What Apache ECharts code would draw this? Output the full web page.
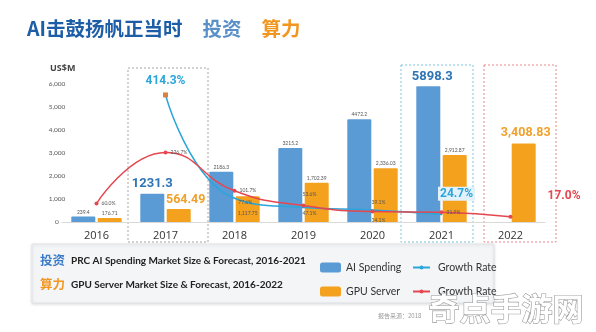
<!DOCTYPE html>
<html><head><meta charset="utf-8">
<script src="https://cdn.jsdelivr.net/npm/echarts@6/dist/echarts.min.js"></script>
<style>html,body{margin:0;padding:0;background:#fff}#c{width:596px;height:332px}</style>
</head><body><div id="c"></div>
<script>
const years = ['2016','2017','2018','2019','2020','2021','2022'];
const aiSpending = [239.4, 1231.3, 2186.3, 3215.2, 4472.2, 5898.3, null];
const gpuServer = [176.71, 564.49, 1117.75, 1702.39, 2336.03, 2912.87, 3408.83];
const aiGrowth = [null, 414.3, 77.6, 47.1, 39.1, 24.7, null];
const gpuGrowth = [60.0, 226.7, 101.7, 53.6, 34.1, 31.9, 17.0];
const yTicks = [0, 1000, 2000, 3000, 4000, 5000, 6000];

const BLUE = '#5b9bd5', ORANGE = '#f4a11d', TEAL = '#2aa6da', RED = '#e4474f';
const FONT = 'Lato, "Noto Sans CJK SC", sans-serif';
const small = {show:true, fontSize:5, color:'#555', fontFamily:FONT};
const bigBlue = {show:true, fontSize:13, fontWeight:'bold', color:'#2e75b6', fontFamily:'Roboto, sans-serif'};
const bigOrange = {show:true, fontSize:12.5, fontWeight:'bold', color:'#f0a12c', fontFamily:'Roboto, sans-serif'};

const fmtAI = v => String(v);
const fmtGPU = v => v.toLocaleString('en-US',{minimumFractionDigits:2,maximumFractionDigits:2});
const fmtPct = v => v.toFixed(1) + '%';

const aiBarLabel = {1: Object.assign({}, bigBlue, {position:'top', distance:3}),
                    5: Object.assign({}, bigBlue, {position:'top', distance:3, offset:[4,0]})};
const gpuBarLabel = {1: Object.assign({}, bigOrange, {position:'top', distance:3, offset:[7,0]}),
                     2: Object.assign({}, small, {position:'insideBottom', distance:6}),
                     6: Object.assign({}, bigOrange, {position:'top', distance:4, offset:[2,0]})};
const aiLineLabel = {1: {show:true, fontSize:12, fontWeight:'bold', color:TEAL, fontFamily:'Roboto, sans-serif', position:'top', distance:5},
                     2: {position:'right', offset:[0,4]},
                     3: {position:'bottom', offset:[6,0]},
                     4: {position:'top', offset:[6,-1]},
                     5: {show:true, fontSize:12, fontWeight:'bold', color:TEAL, fontFamily:'Roboto, sans-serif', position:'top', offset:[15,-10], backgroundColor:'#e2f1fa', padding:[1,2]}};
const gpuLineLabel = {3: {position:'top', offset:[6,-4]},
                      4: {position:'bottom', offset:[6,1]},
                      6: {show:true, fontSize:12, fontWeight:'bold', color:RED, fontFamily:'Roboto, sans-serif', position:'right', offset:[32,-21]}};

function barData(arr, styles, fmt){
  return arr.map((v,i)=> v==null ? null : {value:v, label: Object.assign({}, small, {position:'top', distance:2}, styles[i]||{}, {formatter: ()=>fmt(v)})});
}
function lineData(arr, styles, extra){
  return arr.map((v,i)=> v==null ? null : Object.assign({value:v, label: Object.assign({}, small, {position:'right', distance:3}, styles[i]||{}, {formatter: ()=>fmtPct(v)})}, (extra && extra[i])||{}));
}

const chart = echarts.init(document.getElementById('c'), null, {renderer:'canvas'});
const legendText = {fontSize:10.5, color:'#333', fontFamily:'Lato, sans-serif'};
chart.setOption({
  backgroundColor:'#fff',
  animation:false,
  title:{
    left:22, top:14,
    text:'{a|AI击鼓扬帆正当时}    {b|投资}    {c|算力}',
    textStyle:{rich:{
      a:{fontSize:19.5, fontWeight:'bold', color:'#1d5ea6', fontFamily:'"Noto Sans CJK SC", sans-serif'},
      b:{fontSize:19.5, fontWeight:'bold', color:'#5a8fc8', fontFamily:'"Noto Sans CJK SC", sans-serif'},
      c:{fontSize:19.5, fontWeight:'bold', color:'#f2961f', fontFamily:'"Noto Sans CJK SC", sans-serif'}
    }}
  },
  grid:{left:62, right:51, top:84, bottom:110, containLabel:false},
  xAxis:{type:'category', data:years,
    axisLine:{lineStyle:{color:'#d9d9d9'}}, axisTick:{show:false},
    axisLabel:{fontSize:11, color:'#333', margin:8, fontFamily:'"Open Sans", sans-serif'}},
  yAxis:[
    {type:'value', min:0, max:6000, interval:1000,
     axisLine:{show:false}, axisTick:{show:false}, splitLine:{show:false},
     axisLabel:{fontSize:6.5, color:'#555', align:'center', margin:5, fontFamily:FONT,
       formatter: v => v.toLocaleString('en-US')}},
    {type:'value', min:0, max:450, show:false, splitLine:{show:false}}
  ],
  legend:[
    {data:['AI Spending'], left:315, top:257, itemWidth:21, itemHeight:10, itemGap:0, textStyle:legendText},
    {data:['Growth Rate'], left:407, top:257, itemWidth:17, itemHeight:5, itemGap:0, textStyle:Object.assign({padding:[0,0,0,3]}, legendText)},
    {data:['GPU Server'], left:315, top:281, itemWidth:21, itemHeight:10, itemGap:0, textStyle:legendText},
    {data:['Growth Rate '], left:407, top:281, itemWidth:17, itemHeight:5, itemGap:0, formatter:n=>n.trim(), textStyle:Object.assign({padding:[0,0,0,3]}, legendText)}
  ],
  series:[
    {name:'AI Spending', type:'bar', data:barData(aiSpending, aiBarLabel, fmtAI),
     barWidth:24, barGap:'10%', itemStyle:{color:BLUE, borderRadius:[1,1,0,0]},
     legendIcon:'roundRect', z:2},
    {name:'GPU Server', type:'bar', data:barData(gpuServer, gpuBarLabel, fmtGPU),
     barWidth:24, itemStyle:{color:ORANGE, borderRadius:[1,1,0,0]},
     legendIcon:'roundRect', z:2},
    {name:'Growth Rate', type:'line', yAxisIndex:1, smooth:0.5,
     data:lineData(aiGrowth, aiLineLabel, {1:{symbol:'rect', symbolSize:5, itemStyle:{color:'#e0803e'}}}),
     symbol:'circle', symbolSize:1.5, showSymbol:true,
     lineStyle:{color:TEAL, width:1.5}, itemStyle:{color:TEAL}, z:4},
    {name:'Growth Rate ', type:'line', yAxisIndex:1, smooth:0.5, data:lineData(gpuGrowth, gpuLineLabel),
     symbol:'circle', symbolSize:4,
     lineStyle:{color:RED, width:1.5}, itemStyle:{color:RED}, z:5}
  ],
  graphic:[
    {type:'rect', z:-10, shape:{x:128, y:68, width:80, height:174}, style:{fill:'none', stroke:'#a6a6a6', lineWidth:1, lineDash:[2,2]}},
    {type:'rect', z:-10, shape:{x:401, y:65, width:72, height:177}, style:{fill:'none', stroke:'#7fc6dd', lineWidth:1, lineDash:[2,2]}},
    {type:'rect', z:-10, shape:{x:484, y:65, width:72, height:177}, style:{fill:'none', stroke:'#e8878c', lineWidth:1, lineDash:[2,2]}},
    {type:'text', left:50, top:64, style:{text:'US$M', fontSize:9, fontWeight:'bold', fill:'#444', fontFamily:'"Open Sans", sans-serif'}},
    {type:'rect', z:-5, shape:{x:32, y:244, width:462, height:59}, style:{fill:'#f4f5f7', stroke:'#e2e4e8', lineWidth:1, shadowBlur:3, shadowColor:'rgba(0,0,0,0.12)', shadowOffsetY:1}},
    {type:'text', left:40, top:254, style:{text:'投资', fontSize:12.5, fontWeight:'bold', fill:'#3a7bc8', fontFamily:'"Noto Sans CJK SC", sans-serif'}},
    {type:'text', left:71, top:256, style:{text:'PRC AI Spending Market Size & Forecast, 2016-2021', fontSize:10, fontWeight:'bold', fill:'#222', fontFamily:'Lato, sans-serif'}},
    {type:'text', left:40, top:278, style:{text:'算力', fontSize:12.5, fontWeight:'bold', fill:'#f2961f', fontFamily:'"Noto Sans CJK SC", sans-serif'}},
    {type:'text', left:71, top:280, style:{text:'GPU Server Market Size & Forecast, 2016-2022', fontSize:10, fontWeight:'bold', fill:'#222', fontFamily:'Lato, sans-serif'}},
    {type:'text', left:378, top:313, style:{text:'报告来源：2018', fontSize:6, fill:'#999', fontFamily:'"Noto Sans CJK SC", sans-serif'}},
    {type:'text', left:428, top:292, z:20, style:{text:'奇点手游网', fontSize:31, fontWeight:'bold', fill:'#ffffff', stroke:'#9a9a9a', lineWidth:1.2, fontFamily:'"Noto Sans CJK SC", sans-serif'}}
  ]
});
</script></body></html>
